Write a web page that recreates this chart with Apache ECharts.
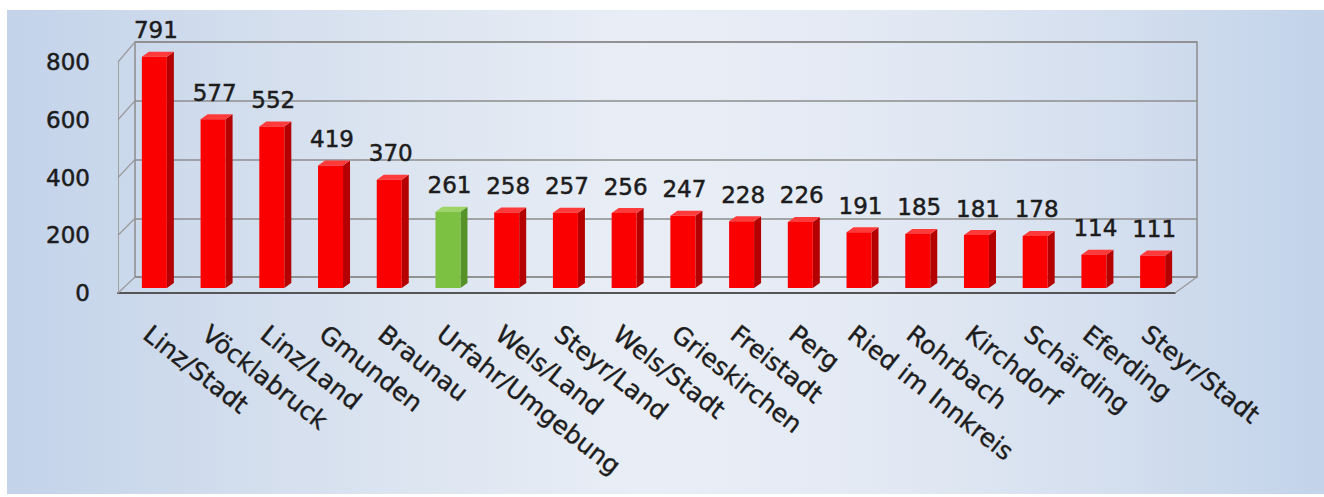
<!DOCTYPE html>
<html>
<head>
<meta charset="utf-8">
<script src="https://cdn.jsdelivr.net/npm/echarts@6/dist/echarts.min.js"></script>
<style>
  html, body { margin: 0; padding: 0; background: #fff; }
  #panel {
    position: absolute; left: 7px; top: 10px; width: 1317px; height: 484px;
    background: linear-gradient(to right, #c3d3ea 0%, #d6e0ee 22%, #e9eef6 48%, #e4eaf4 65%, #d3deee 85%, #c2d3ea 100%);
  }
  #chart { position: absolute; left: 0; top: 0; width: 1324px; height: 497px; }
</style>
</head>
<body>
<div id="panel"></div>
<div id="chart"></div>
<script>
let districts = ['Linz/Stadt', 'Vöcklabruck', 'Linz/Land', 'Gmunden', 'Braunau', 'Urfahr/Umgebung',
  'Wels/Land', 'Steyr/Land', 'Wels/Stadt', 'Grieskirchen', 'Freistadt', 'Perg',
  'Ried im Innkreis', 'Rohrbach', 'Kirchdorf', 'Schärding', 'Eferding', 'Steyr/Stadt'];
let counts = [791, 577, 552, 419, 370, 261, 258, 257, 256, 247, 228, 226, 191, 185, 181, 178, 114, 111];
let highlighted = ['Urfahr/Umgebung'];
let yTicks = [0, 200, 400, 600, 800];

let red = { front: '#fb0000', side: '#b40000', top: '#ff3a3a' };
let green = { front: '#7dc142', side: '#559328', top: '#9dd466' };
let textColor = '#1c1c1c';

function renderBar(params, api) {
  let i = api.value(0);
  let v = api.value(1);
  let base = api.coord([i, 0]);
  let top = api.coord([i, v]);
  let w = 25, d = 7, h = 5;
  let x0 = base[0] - w / 2;
  let x1 = x0 + w;
  let y0 = base[1], y1 = top[1];
  let c = highlighted.indexOf(districts[i]) >= 0 ? green : red;
  return {
    type: 'group',
    children: [
      { type: 'polygon', shape: { points: [[x1, y1], [x1 + d, y1 - h], [x1 + d, y0 - h], [x1, y0]] }, style: { fill: c.side } },
      { type: 'polygon', shape: { points: [[x0, y1], [x0 + d, y1 - h], [x1 + d, y1 - h], [x1, y1]] }, style: { fill: c.top } },
      { type: 'rect', shape: { x: x0, y: y1, width: w, height: y0 - y1 }, style: { fill: c.front } },
      {
        type: 'text',
        style: {
          text: String(v), x: x0 + (w + d) / 2 - 2, y: y1 - h - 10,
          textAlign: 'center', textVerticalAlign: 'bottom',
          font: '23px "DejaVu Sans"', fill: textColor,
          stroke: textColor, lineWidth: 0.5
        }
      }
    ]
  };
}

let myChart = echarts.init(document.getElementById('chart'), null, { renderer: 'svg' });

let option = {
  animation: false,
  grid: [
    // back wall
    { left: 135, right: 127, top: 42, bottom: 220, show: true, borderColor: '#8c8c8c', borderWidth: 1.5 },
    // front plane (axes)
    { left: 118, right: 149, top: 62, bottom: 204 },
    // bar plane
    { left: 125, right: 142, top: 54, bottom: 209 }
  ],
  xAxis: [
    { gridIndex: 0, type: 'category', data: districts, show: false },
    {
      gridIndex: 1, type: 'category', data: districts,
      axisLine: { lineStyle: { color: '#555', width: 2 } },
      axisTick: { length: 8, lineStyle: { color: '#555', width: 2 } },
      axisLabel: { show: false }
    },
    {
      gridIndex: 2, type: 'category', data: districts,
      axisLine: { show: false }, axisTick: { show: false },
      axisLabel: {
        rotate: -38, interval: 0, margin: 33, verticalAlign: 'top',
        fontFamily: 'DejaVu Sans', fontSize: 25, color: textColor,
        textBorderColor: textColor, textBorderWidth: 0.4
      }
    }
  ],
  yAxis: [
    {
      gridIndex: 0, type: 'value', min: 0, max: 800, interval: 200,
      axisLine: { show: false }, axisTick: { show: false }, axisLabel: { show: false },
      splitLine: { lineStyle: { color: '#8c8c8c', width: 1.5 } }
    },
    {
      gridIndex: 1, type: 'value', min: 0, max: 800, interval: 200,
      axisLine: { show: true, lineStyle: { color: '#a0a0a0', width: 1 } },
      axisTick: { show: false },
      splitLine: { show: false },
      axisLabel: {
        margin: 28, fontFamily: 'DejaVu Sans', fontSize: 23, color: textColor,
        textBorderColor: textColor, textBorderWidth: 0.5
      }
    },
    { gridIndex: 2, type: 'value', min: 0, max: 800, show: false, splitLine: { show: false } }
  ],
  series: [{
    type: 'custom',
    xAxisIndex: 2,
    yAxisIndex: 2,
    renderItem: renderBar,
    encode: { x: 0, y: 1 },
    data: counts.map(function (v, i) { return [i, v]; }),
    z: 5
  }]
};
myChart.setOption(option);

// side wall and floor edges joining the front axes to the back wall
let lines = [];
yTicks.forEach(function (t) {
  let f = myChart.convertToPixel({ xAxisIndex: 1, yAxisIndex: 1 }, [0, t]);
  let b = myChart.convertToPixel({ xAxisIndex: 0, yAxisIndex: 0 }, [0, t]);
  lines.push({ x1: 118, y1: f[1], x2: 135, y2: b[1] });
});
let frontZero = myChart.convertToPixel({ xAxisIndex: 1, yAxisIndex: 1 }, [0, 0]);
let backZero = myChart.convertToPixel({ xAxisIndex: 0, yAxisIndex: 0 }, [0, 0]);
lines.push({ x1: 1175, y1: frontZero[1], x2: 1197, y2: backZero[1] });
myChart.setOption({
  graphic: lines.map(function (l) {
    return { type: 'line', shape: l, style: { stroke: '#9a9a9a', lineWidth: 1.2 }, z: 1 };
  })
});
</script>
</body>
</html>
